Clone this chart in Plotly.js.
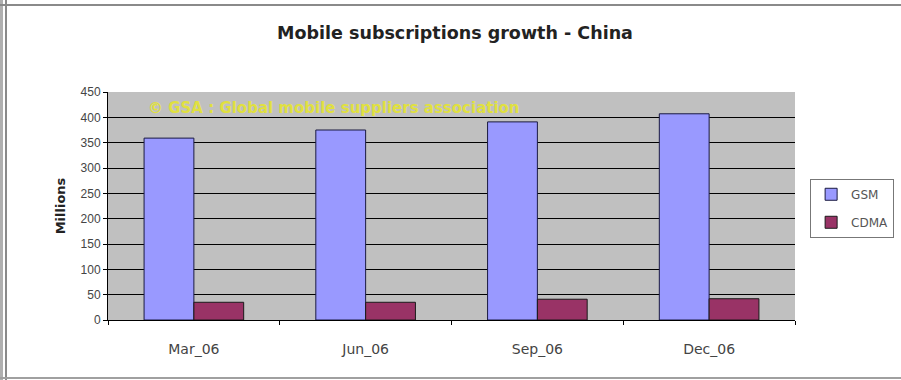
<!DOCTYPE html>
<html>
<head>
<meta charset="utf-8">
<script src="https://cdn.plot.ly/plotly-3.0.1.min.js"></script>
<style>
html,body{margin:0;padding:0;background:#fff;}
#wrap{position:relative;width:901px;height:380px;overflow:hidden;}
#chart{position:absolute;left:0;top:0;width:901px;height:380px;}
.ln{position:absolute;background:#9a9a9a;}
</style>
</head>
<body>
<div id="wrap">
<div id="chart"></div>
<div class="ln" style="left:0;top:0;width:3px;height:380px;background:#b0b0b0"></div>
<div class="ln" style="left:5px;top:0;width:2px;height:380px;background:#8a8a8a"></div>
<div class="ln" style="left:0;top:4px;width:901px;height:2px;background:#8a8a8a"></div>
<div class="ln" style="left:0;top:377px;width:901px;height:2px;background:#a0a0a0"></div>
</div>
<script>
const categories = ["Mar_06", "Jun_06", "Sep_06", "Dec_06"];
const gsmValues = [359, 375, 391, 407];
const cdmaValues = [35, 35, 41, 42];
const seriesNames = ["GSM", "CDMA"];
const yTicks = [0, 50, 100, 150, 200, 250, 300, 350, 400, 450];
const noteText = "© GSA : Global mobile suppliers association";

const wide = "DejaVu Sans, Verdana, sans-serif";
const data = [
  {type: "bar", name: seriesNames[0], x: categories, y: gsmValues, legendgroup: "g1",
   marker: {color: "#9999FF", line: {color: "#1a1a40", width: 1}}},
  {type: "bar", name: seriesNames[1], x: categories, y: cdmaValues, legendgroup: "g2",
   marker: {color: "#993366", line: {color: "#1a1a1a", width: 1}}}
];

const layout = {
  width: 901, height: 380,
  margin: {l: 108, r: 106, t: 92, b: 60, autoexpand: false},
  paper_bgcolor: "#ffffff",
  plot_bgcolor: "#C0C0C0",
  font: {family: wide, size: 12, color: "#333"},
  title: {text: "<b>Mobile subscriptions growth - China</b>", x: 0.505, xanchor: "center", y: 0.913, yanchor: "middle",
          font: {size: 17.5, color: "#222", family: wide}},
  barmode: "group",
  bargap: 0.42,
  bargroupgap: 0,
  xaxis: {
    type: "category",
    showline: true, linecolor: "#000", linewidth: 1,
    ticks: "outside", tickson: "boundaries", ticklen: 4, tickcolor: "#000",
    showgrid: false, zeroline: false,
    tickfont: {size: 14, color: "#444", family: wide},
    ticklabelstandoff: 16
  },
  yaxis: {
    range: [0, 450],
    tickvals: yTicks,
    showline: true, linecolor: "#000", linewidth: 1,
    ticks: "outside", ticklen: 4, tickcolor: "#000",
    showgrid: true, gridcolor: "#000", gridwidth: 1,
    zeroline: false,
    tickfont: {size: 12, color: "#444", family: "Liberation Sans, Arial, sans-serif"},
    title: {text: "<b>Millions</b>", font: {size: 13, color: "#222", family: wide}, standoff: 12}
  },
  showlegend: true,
  legend: {
    x: 1.022, y: 0.49, xanchor: "left", yanchor: "middle",
    bgcolor: "#fff", bordercolor: "#777", borderwidth: 1,
    font: {size: 12, color: "#555", family: wide},
    itemwidth: 30, tracegroupgap: 9
  },
  annotations: [
    {text: "<b>" + noteText + "</b>", xref: "paper", yref: "paper", x: 0.055, y: 0.93, xanchor: "left", yanchor: "middle",
     showarrow: false, font: {size: 15, color: "#E0E040", family: wide}}
  ]
};

Plotly.newPlot("chart", data, layout, {displayModeBar: false, staticPlot: true});
</script>
</body>
</html>
